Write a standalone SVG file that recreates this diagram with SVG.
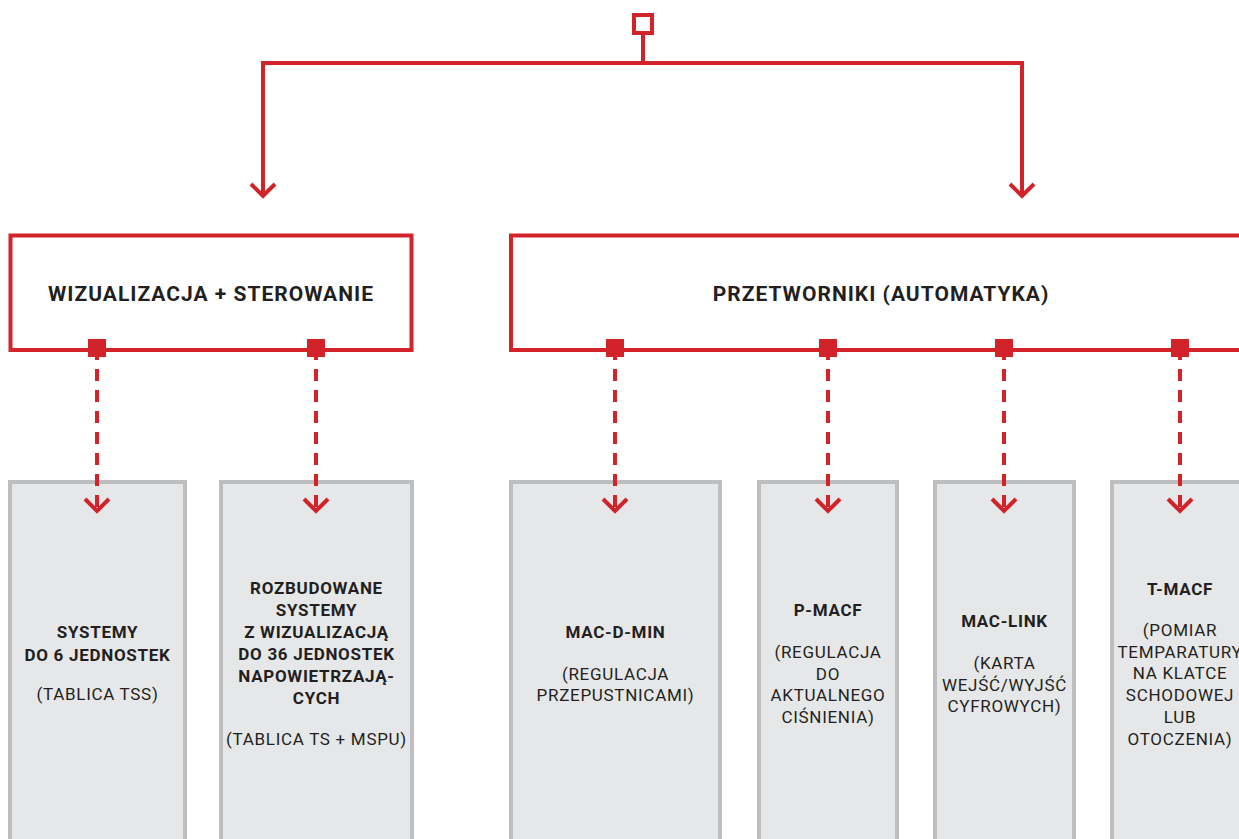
<svg xmlns="http://www.w3.org/2000/svg" width="1239" height="839" viewBox="0 0 1239 839">
<style>
.red{stroke:#d2232a;stroke-width:4;fill:none}
.dash{stroke:#d2232a;stroke-width:4;fill:none;stroke-dasharray:12 9}
.head{stroke:#d2232a;stroke-width:4;fill:none;stroke-linecap:butt;stroke-linejoin:miter}
.top{fill:#ffffff;stroke:#d2232a;stroke-width:4}
.sq{fill:#d2232a}
.leaf{fill:#e6e7e8;stroke:#bcbec0;stroke-width:4}
text{font-family:Roboto,"Liberation Sans",sans-serif;fill:#231f20;text-anchor:middle}
.t{font-size:21px;font-weight:700;letter-spacing:1px}
.b{font-size:17px;font-weight:700;letter-spacing:0.7px}
.r{font-size:17px;font-weight:400;letter-spacing:0.7px}
</style>
<g id="root">
<rect x="634" y="15" width="18" height="18" fill="#fff" stroke="#d2232a" stroke-width="4"/>
</g>
<g id="wizualizacja">
<rect class="top" x="10.5" y="235.5" width="401" height="114.5"/>
<text class="t" x="211" y="301">WIZUALIZACJA + STEROWANIE</text>
</g>
<g id="przetworniki">
<rect class="top" x="511" y="235.5" width="760" height="114.5"/>
<text class="t" x="881" y="301">PRZETWORNIKI (AUTOMATYKA)</text>
</g>
<g id="systemy6">
<rect class="leaf" x="10" y="482" width="175" height="420"/>
<text class="b" x="97.5" y="638">SYSTEMY</text>
<text class="b" x="97.5" y="661">DO 6 JEDNOSTEK</text>
<text class="r" x="97.5" y="700">(TABLICA TSS)</text>
</g>
<g id="rozbudowane">
<rect class="leaf" x="221" y="482" width="191" height="420"/>
<text class="b" x="316.5" y="594">ROZBUDOWANE</text>
<text class="b" x="316.5" y="616">SYSTEMY</text>
<text class="b" x="316.5" y="638">Z WIZUALIZACJĄ</text>
<text class="b" x="316.5" y="660">DO 36 JEDNOSTEK</text>
<text class="b" x="316.5" y="682">NAPOWIETRZAJĄ-</text>
<text class="b" x="316.5" y="704">CYCH</text>
<text class="r" x="316.5" y="745">(TABLICA TS + MSPU)</text>
</g>
<g id="macdmin">
<rect class="leaf" x="511" y="482" width="209" height="420"/>
<text class="b" x="615.5" y="638">MAC-D-MIN</text>
<text class="r" x="615.5" y="680">(REGULACJA</text>
<text class="r" x="615.5" y="701">PRZEPUSTNICAMI)</text>
</g>
<g id="pmacf">
<rect class="leaf" x="759" y="482" width="138" height="420"/>
<text class="b" x="828" y="616">P-MACF</text>
<text class="r" x="828" y="658">(REGULACJA</text>
<text class="r" x="828" y="680">DO</text>
<text class="r" x="828" y="701">AKTUALNEGO</text>
<text class="r" x="828" y="723">CIŚNIENIA)</text>
</g>
<g id="maclink">
<rect class="leaf" x="935" y="482" width="139" height="420"/>
<text class="b" x="1004.5" y="627">MAC-LINK</text>
<text class="r" x="1004.5" y="669">(KARTA</text>
<text class="r" x="1004.5" y="691">WEJŚĆ/WYJŚĆ</text>
<text class="r" x="1004.5" y="712">CYFROWYCH)</text>
</g>
<g id="tmacf">
<rect class="leaf" x="1112" y="482" width="200" height="420"/>
<text class="b" x="1180" y="595">T-MACF</text>
<text class="r" x="1180" y="636">(POMIAR</text>
<text class="r" x="1180" y="658">TEMPARATURY</text>
<text class="r" x="1180" y="679">NA KLATCE</text>
<text class="r" x="1180" y="701">SCHODOWEJ</text>
<text class="r" x="1180" y="723">LUB</text>
<text class="r" x="1180" y="745">OTOCZENIA)</text>
</g>
<g id="connectors">
<polyline class="red" points="643,35 643,63"/>
<polyline class="red" points="263,196 263,63 1022,63 1022,196"/>
<polyline class="head" points="251,184 263,196 275,184"/>
<polyline class="head" points="1010,184 1022,196 1034,184"/>
<line class="dash" x1="97" y1="348" x2="97" y2="510"/>
<line class="dash" x1="316" y1="348" x2="316" y2="510"/>
<line class="dash" x1="615" y1="348" x2="615" y2="510"/>
<line class="dash" x1="828" y1="348" x2="828" y2="510"/>
<line class="dash" x1="1004" y1="348" x2="1004" y2="510"/>
<line class="dash" x1="1180" y1="348" x2="1180" y2="510"/>
<polyline class="head" points="85,499 97,511 109,499"/>
<polyline class="head" points="304,499 316,511 328,499"/>
<polyline class="head" points="603,499 615,511 627,499"/>
<polyline class="head" points="816,499 828,511 840,499"/>
<polyline class="head" points="992,499 1004,511 1016,499"/>
<polyline class="head" points="1168,499 1180,511 1192,499"/>
<rect class="sq" x="88" y="339" width="18" height="18"/>
<rect class="sq" x="307" y="339" width="18" height="18"/>
<rect class="sq" x="606" y="339" width="18" height="18"/>
<rect class="sq" x="819" y="339" width="18" height="18"/>
<rect class="sq" x="995" y="339" width="18" height="18"/>
<rect class="sq" x="1171" y="339" width="18" height="18"/>
</g>
</svg>
